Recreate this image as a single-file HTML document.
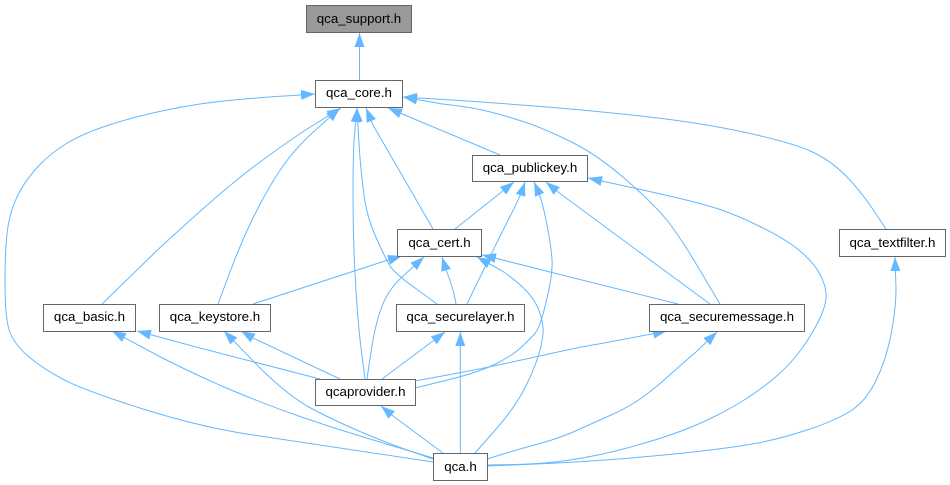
<!DOCTYPE html>
<html><head><meta charset="utf-8"><title>qca_support.h include graph</title>
<style>
html,body{margin:0;padding:0;background:#fff;width:950px;height:485px;overflow:hidden}
svg{display:block}
path{fill:none;stroke:#63b8ff;stroke-width:1;stroke-linejoin:round;marker-end:url(#a)}
rect{fill:#fff;stroke:#666;stroke-width:1}
text{font-family:"Liberation Sans",sans-serif;font-size:13.33px;fill:#000;text-anchor:middle}
</style></head>
<body>
<svg width="950" height="485" viewBox="0 0 950 485" xmlns="http://www.w3.org/2000/svg">
<defs>
<marker id="a" markerUnits="userSpaceOnUse" markerWidth="15" markerHeight="12" refX="14" refY="5.5" orient="auto">
<polygon points="0,0.5 14,5.5 0,10.5" fill="#63b8ff"/>
</marker>
</defs>
<path d="M359.5,80 L359.5,33"/>
<path d="M433,462 L300,442 L250,434.5 Q200,427 141.5,408.5 Q83,390 62.5,379 Q42,368 28.5,356.5 Q15,345 10,332.5 Q5,320 5,282.5 Q5,245 8,226.5 Q11,208 19,193 Q27,178 39,165.5 Q51,153 66.5,143.5 Q82,134 107.5,125.5 Q133,117 166.5,110 Q200,103 233.5,100 Q267,97 284.5,96 L315,94"/>
<path d="M102,304 L157.5,250 Q168,240 200.5,211 Q233,182 258,163.5 Q283,145 305.5,130 L341,108"/>
<path d="M218,304 L230,272 Q242,240 254.5,215 Q267,190 279.5,171 Q292,152 310,135 L340,108"/>
<path d="M365,379 L361.5,352 Q358,325 355.5,282.5 Q353,240 353,195 Q353,150 354.5,135 L357,108"/>
<path d="M437,304 L415,288 Q393,272 389,264.5 Q385,257 376.5,238.5 Q368,220 365,201.5 Q362,183 359.5,151.5 L357,108"/>
<path d="M433,229 L373,125 L366,108"/>
<path d="M500,155 L400,113 L388,108"/>
<path d="M720,304 L701,272 Q682,240 669.5,223.5 Q657,207 627.5,181 Q598,155 570.5,141.5 Q543,128 523,121.5 Q503,115 486.5,111 Q470,107 442.5,104 L403,97"/>
<path d="M886,229 L873,209.5 Q860,190 845,175 Q830,160 811.5,151.5 Q793,143 748,133 Q703,123 645,116.5 Q587,110 528.5,105.5 Q470,101 443.5,99.5 L403,97"/>
<path d="M455,229 L514,182"/>
<path d="M467,304 L482.5,272 Q498,240 509,218.5 Q520,197 522.5,189.5 L525,182"/>
<path d="M415,388 L447.5,380 Q480,372 496.5,363.5 Q513,355 521,347.5 Q529,340 534.5,334 Q540,328 546.5,300.5 Q553,273 552,259 Q551,245 546.5,222.5 Q542,200 538,191 L534,182"/>
<path d="M710,304 L623,240 L558,192 L546,182"/>
<path d="M487,465 L515,464.5 Q543,464 570,460 Q597,456 625,448.5 Q653,441 673,434 Q693,427 711.5,418 Q730,409 745,399.5 Q760,390 775,377.5 Q790,365 801.5,349 Q813,333 820,318 Q827,303 826,293 Q825,283 819,272.5 Q813,262 800,251 Q787,240 762,227.5 Q737,215 717,208.5 Q697,202 649.5,191.5 L588,178"/>
<path d="M253,304 L388,260 L402,256"/>
<path d="M367,379 L371,352 Q375,325 381.5,307.5 Q388,290 401.5,277.5 L424,257"/>
<path d="M456,304 Q454,290 446,270 L442,257"/>
<path d="M475,453 L494,431.5 Q513,410 523,391.5 Q533,373 538.5,355 Q544,337 543,327 Q542,317 537.5,307 Q533,297 523,287.5 Q513,278 501.5,270.5 L477,257"/>
<path d="M678,304 L550,272 L495,258 L482,255"/>
<path d="M320,379 L200,348 L137,331"/>
<path d="M433,458 L366.5,438 Q333,428 300,416.5 Q267,405 233.5,391 Q200,377 161.5,357.5 L112,331"/>
<path d="M340,379 L253,338 L241,331"/>
<path d="M433,459 L410,451 Q387,443 360,431.5 Q333,420 311.5,408.5 Q290,397 261.5,369.5 L224,331"/>
<path d="M382,379 L437,338 L445,332"/>
<path d="M460.3,453 L460.3,332"/>
<path d="M415,381 L447.5,375 Q480,369 510,362.5 Q540,356 560,351.5 Q580,347 601.5,343.5 L667,331"/>
<path d="M487,459 L505,453.5 Q523,448 541.5,443 Q560,438 576.5,430.5 Q593,423 610,415.5 Q627,408 640,399 Q653,390 668,376.5 Q683,363 696.5,351.5 L717,332"/>
<path d="M443,453 L393,416 L381,406"/>
<path d="M487,466 L525,464.5 Q563,463 605,460 Q647,457 688.5,452.5 Q730,448 755,443.5 Q780,439 808.5,429.5 Q837,420 852,410 Q867,400 877,378.5 Q887,357 891.5,332 Q896,307 896,288.5 L895,257"/>

<rect x="306.5" y="5.5" width="105" height="27" style="fill:#999"/>
<text x="359" y="23">qca_support.h</text>
<rect x="315.5" y="80.5" width="87" height="27"/>
<text x="359" y="97">qca_core.h</text>
<rect x="472.5" y="155.5" width="115" height="26"/>
<text x="530" y="172">qca_publickey.h</text>
<rect x="397.5" y="229.5" width="84" height="27"/>
<text x="439.5" y="247">qca_cert.h</text>
<rect x="839.5" y="229.5" width="106" height="27"/>
<text x="892.5" y="247">qca_textfilter.h</text>
<rect x="43.5" y="304.5" width="92" height="27"/>
<text x="89.5" y="321">qca_basic.h</text>
<rect x="159.5" y="304.5" width="111" height="27"/>
<text x="215" y="321">qca_keystore.h</text>
<rect x="396.5" y="304.5" width="128" height="27"/>
<text x="460.5" y="321">qca_securelayer.h</text>
<rect x="649.5" y="304.5" width="155" height="27"/>
<text x="727" y="321">qca_securemessage.h</text>
<rect x="315.5" y="379.5" width="100" height="26"/>
<text x="365.5" y="396">qcaprovider.h</text>
<rect x="433.5" y="453.5" width="54" height="27"/>
<text x="460.5" y="471">qca.h</text>
</svg>
</body></html>
